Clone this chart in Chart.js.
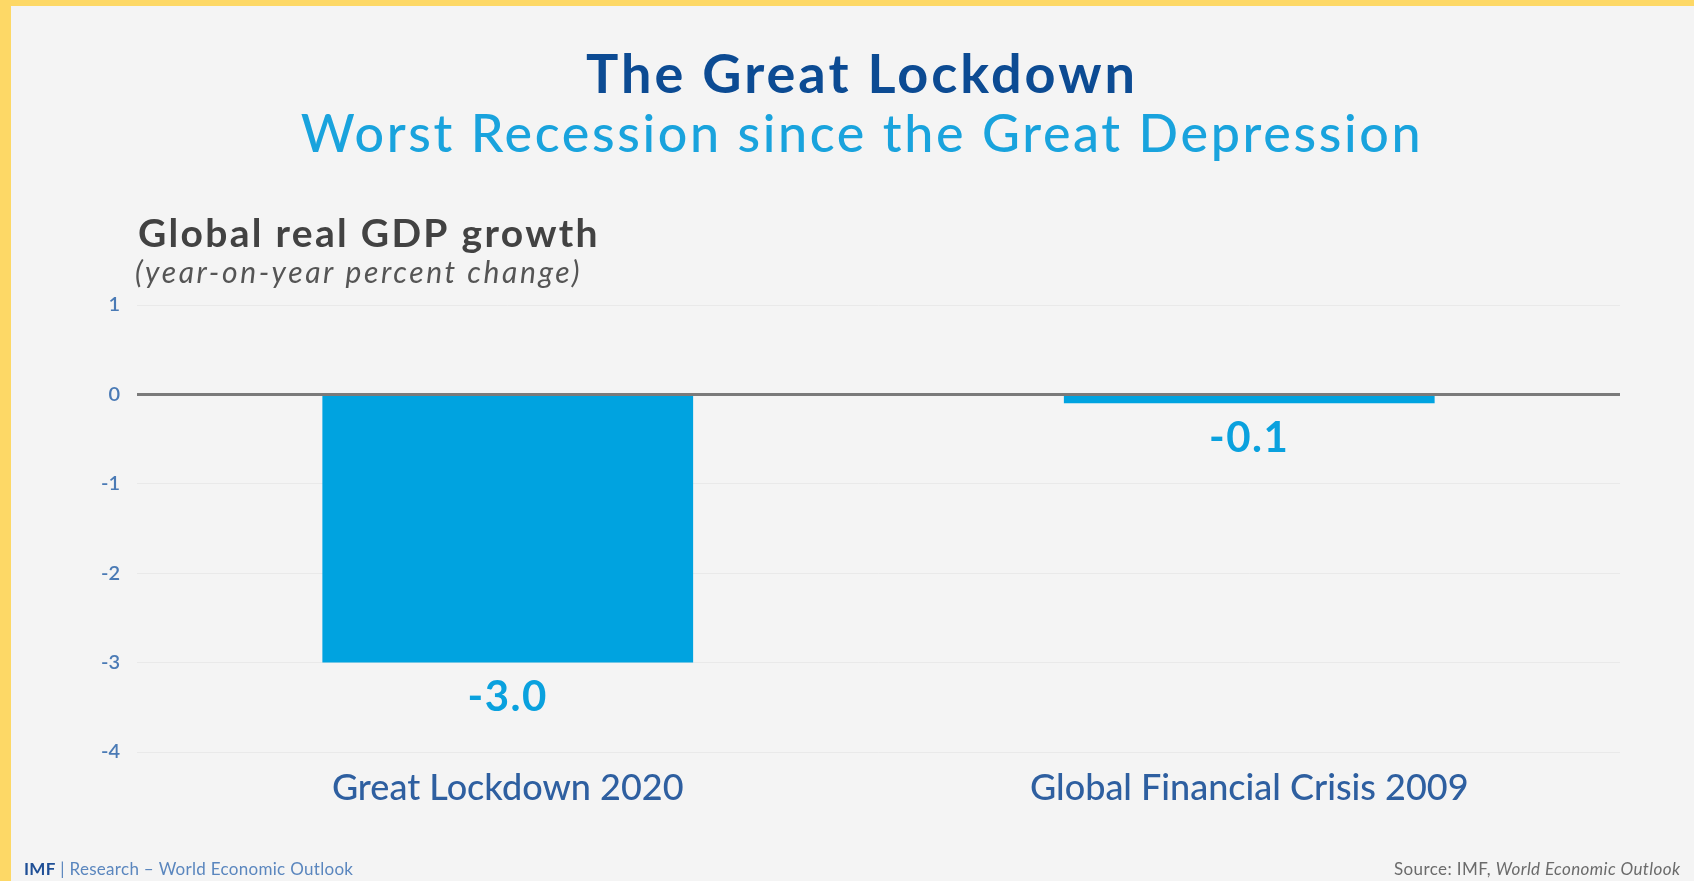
<!DOCTYPE html>
<html>
<head>
<meta charset="utf-8">
<title>The Great Lockdown</title>
<script src="https://cdn.jsdelivr.net/npm/chart.js@4.4.1/dist/chart.umd.min.js"></script>
<style>
  html, body { margin: 0; padding: 0; background: #f4f4f4; overflow: hidden; }
  canvas { display: block; }
</style>
</head>
<body>
<canvas id="chart" width="1694" height="881"></canvas>
<script>
// values
const categories = ['Great Lockdown 2020', 'Global Financial Crisis 2009'];
const growth = [-3.0, -0.1];
const yMin = -4;
const yMax = 1;
const yStep = 1;

const FONT = 'Lato, "Open Sans", sans-serif';

// draws text with extra tracking (the slide font is wider than Lato)
function spaced(ctx, text, x, y, spacing) {
    ctx.letterSpacing = spacing + 'px';
    ctx.fillText(text, x, y);
    const w = ctx.measureText(text).width;
    ctx.letterSpacing = '0px';
    return w;
}

// page background, yellow frame, headings and footer
const slideText = {
    id: 'slideText',
    beforeDraw(chart) {
        const ctx = chart.ctx;
        ctx.save();
        ctx.fillStyle = '#f4f4f4';
        ctx.fillRect(0, 0, chart.width, chart.height);
        ctx.fillStyle = '#fdd866';
        ctx.fillRect(0, 0, chart.width, 6);
        ctx.fillRect(0, 0, 11, chart.height);
        ctx.restore();
    },
    afterDraw(chart) {
        const ctx = chart.ctx;
        const left = chart.chartArea.left;
        ctx.save();
        ctx.textBaseline = 'alphabetic';

        ctx.textAlign = 'center';
        ctx.fillStyle = '#0c4b93';
        ctx.font = 'bold 54px ' + FONT;
        spaced(ctx, 'The Great Lockdown', 862, 93, 3);

        ctx.fillStyle = '#19a3dd';
        ctx.font = '500 52px ' + FONT;
        spaced(ctx, 'Worst Recession since the Great Depression', 862, 152, 2.65);

        ctx.textAlign = 'left';
        ctx.fillStyle = '#424242';
        ctx.font = 'bold 39px ' + FONT;
        spaced(ctx, 'Global real GDP growth', left + 1, 247, 2.3);

        ctx.fillStyle = '#555555';
        ctx.font = 'italic 30px ' + FONT;
        spaced(ctx, '(year-on-year percent change)', left - 2, 283, 2.6);

        // footer left
        let x = 24;
        ctx.font = 'bold 17px ' + FONT;
        ctx.fillStyle = '#1f4f96';
        x += spaced(ctx, 'IMF', x, 875, 0.3);
        ctx.font = '17px ' + FONT;
        ctx.fillStyle = '#5a86be';
        spaced(ctx, ' | Research \u2013 World Economic Outlook', x, 875, 0.3);

        // footer right (runs off the edge like the slide)
        x = 1394;
        ctx.fillStyle = '#6b6b6b';
        ctx.font = '17px ' + FONT;
        x += spaced(ctx, 'Source: IMF, ', x, 875, 0.4);
        ctx.font = 'italic 17px ' + FONT;
        spaced(ctx, 'World Economic Outlook', x, 875, 0.4);
        ctx.restore();
    }
};

// value labels under each bar
const barValues = {
    id: 'barValues',
    afterDatasetsDraw(chart) {
        const ctx = chart.ctx;
        const meta = chart.getDatasetMeta(0);
        ctx.save();
        ctx.fillStyle = '#0aa1de';
        ctx.font = 'bold 42px ' + FONT;
        ctx.textAlign = 'center';
        ctx.textBaseline = 'top';
        meta.data.forEach((bar, i) => {
            spaced(ctx, growth[i].toFixed(1), bar.x, bar.y + 14, 1.5);
        });
        ctx.restore();
    }
};

new Chart(document.getElementById('chart'), {
    type: 'bar',
    data: {
        labels: categories,
        datasets: [{
            label: 'Global real GDP growth',
            data: growth,
            backgroundColor: '#00a3e0',
            borderWidth: 0,
            categoryPercentage: 1,
            barPercentage: 0.5
        }]
    },
    options: {
        responsive: false,
        devicePixelRatio: 1,
        animation: false,
        layout: { padding: { top: 305, right: 74, bottom: 0, left: 0 } },
        plugins: {
            legend: { display: false },
            title: { display: false },
            tooltip: { enabled: false }
        },
        scales: {
            x: {
                grid: { display: false },
                border: { display: false },
                ticks: {
                    color: '#2e5fa0',
                    font: { family: FONT, size: 36, weight: 500 },
                    padding: 7
                },
                afterFit(scale) { scale.height = 129; }
            },
            y: {
                min: yMin,
                max: yMax,
                border: { display: false },
                grid: {
                    drawTicks: false,
                    color: ctx => ctx.tick.value === 0 ? '#7a7a7a' : '#e9e9e9',
                    lineWidth: ctx => ctx.tick.value === 0 ? 3 : 1
                },
                ticks: {
                    stepSize: yStep,
                    color: '#4a7ab5',
                    font: { family: FONT, size: 20, weight: 600 },
                    padding: 17
                },
                afterFit(scale) { scale.width = 137; }
            }
        }
    },
    plugins: [slideText, barValues]
});
</script>
</body>
</html>
